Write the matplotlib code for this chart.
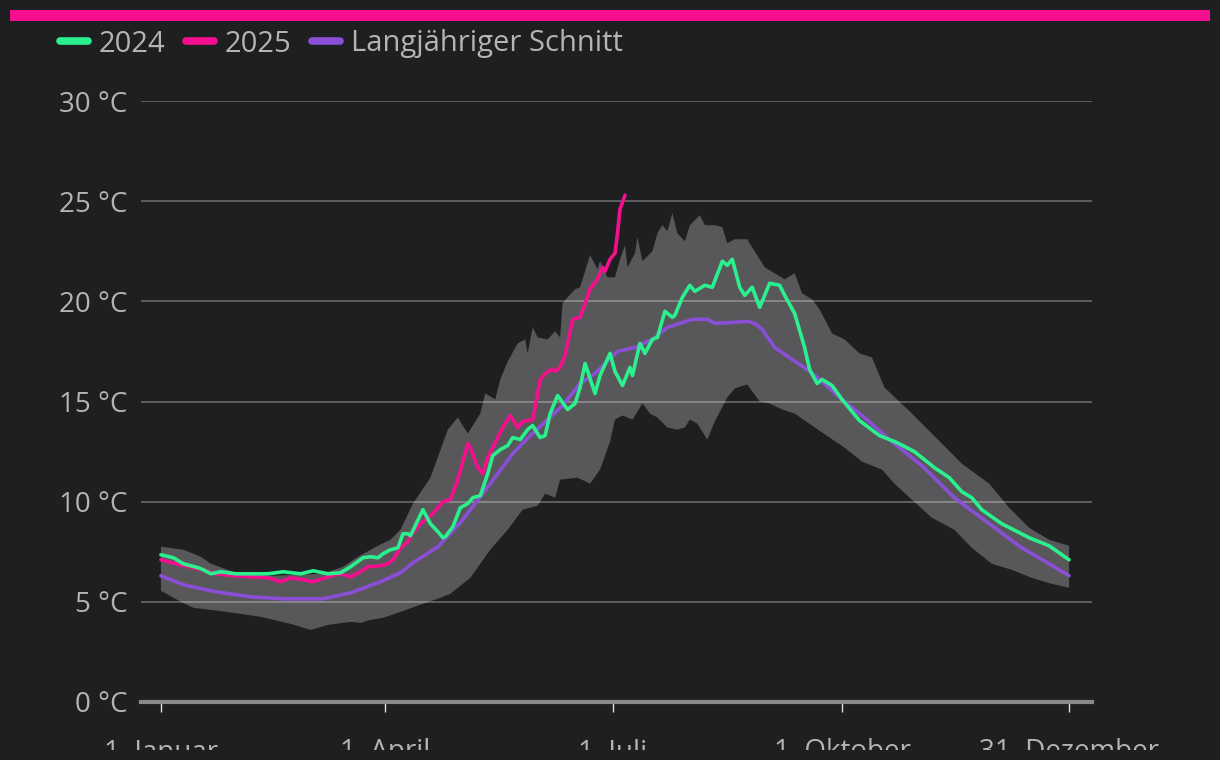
import numpy as np
import matplotlib
matplotlib.use("Agg")
import matplotlib.pyplot as plt
from matplotlib.patches import Rectangle

# ---------------- data ----------------
tick_days = [0, 90, 181, 273, 364]
tick_labels = ["1. Januar", "1. April", "1. Juli", "1. Oktober", "31. Dezember"]
y_ticks = [0, 5, 10, 15, 20, 25, 30]
y_labels = ["0 °C", "5 °C", "10 °C", "15 °C", "20 °C", "25 °C", "30 °C"]

avg_days = [0, 9, 22, 36, 49, 65, 76, 88, 96, 101, 111, 121, 132, 141, 148, 155, 161,
            168, 174, 183, 190, 197, 203, 213, 219, 222, 230, 235, 238, 241, 246, 253,
            259, 265, 273, 282, 292, 300, 305, 318, 332, 345, 356, 364]
avg_vals = [6.3, 5.85, 5.5, 5.25, 5.15, 5.15, 5.45, 6.0, 6.45, 6.95, 7.75, 9.1, 10.9, 12.4,
            13.3, 14.1, 14.8, 15.9, 16.4, 17.5, 17.7, 18.1, 18.7, 19.1, 19.1, 18.9, 18.95,
            19.0, 18.9, 18.6, 17.7, 17.1, 16.6, 16.0, 15.1, 14.2, 13.1, 12.3, 11.8, 10.2,
            8.9, 7.7, 6.9, 6.3]

upper_days = [0, 9, 16, 20, 29, 43, 56, 65, 73, 79, 87, 92, 96, 101, 108, 115, 119, 123,
              128, 130, 134, 136, 139, 143, 146, 147, 149, 151, 155, 158, 160, 161, 163,
              166, 168, 172, 175, 176, 179, 182, 184, 186, 187, 190, 191, 193, 197, 199,
              201, 203, 205, 207, 210, 212, 216, 218, 222, 225, 227, 230, 235, 238, 242,
              246, 250, 254, 257, 261, 264, 269, 274, 280, 285, 290, 301, 309, 321, 332,
              340, 348, 356, 364]
upper_vals = [7.75, 7.6, 7.25, 6.9, 6.5, 6.3, 6.35, 6.4, 6.75, 7.25, 7.8, 8.1, 8.6, 9.9,
              11.2, 13.6, 14.2, 13.4, 14.4, 15.4, 15.1, 16.1, 17.0, 17.9, 18.1, 17.4, 18.7,
              18.2, 18.1, 18.5, 18.2, 19.9, 20.2, 20.6, 20.7, 22.3, 21.6, 22.0, 21.2, 21.2,
              22.1, 22.8, 21.7, 22.4, 23.2, 22.0, 22.5, 23.4, 23.8, 23.5, 24.4, 23.4, 23.0,
              23.8, 24.3, 23.8, 23.8, 23.7, 22.9, 23.1, 23.1, 22.5, 21.7, 21.4, 21.1, 21.4,
              20.4, 20.1, 19.6, 18.4, 18.1, 17.4, 17.2, 15.7, 14.4, 13.4, 11.9, 10.9, 9.7,
              8.7, 8.1, 7.8]

lower_days = [0, 8, 13, 23, 32, 40, 52, 60, 67, 76, 80, 84, 89, 96, 105, 112, 116, 124,
              132, 139, 145, 151, 154, 158, 160, 167, 172, 176, 180, 182, 185, 189, 193,
              196, 199, 203, 207, 210, 212, 215, 219, 222, 227, 230, 235, 240, 244, 249,
              254, 261, 268, 274, 281, 289, 294, 301, 309, 318, 325, 333, 341, 349, 357, 364]
lower_vals = [5.55, 5.0, 4.7, 4.55, 4.4, 4.25, 3.9, 3.6, 3.85, 4.0, 3.95, 4.1, 4.2, 4.5,
              4.9, 5.2, 5.4, 6.2, 7.6, 8.6, 9.6, 9.8, 10.4, 10.2, 11.1, 11.2, 10.9, 11.6,
              13.0, 14.1, 14.3, 14.1, 14.9, 14.4, 14.2, 13.7, 13.6, 13.7, 14.1, 13.9, 13.1,
              14.0, 15.2, 15.65, 15.85, 15.0, 14.9, 14.6, 14.4, 13.8, 13.2, 12.7, 12.0, 11.6,
              10.9, 10.1, 9.2, 8.6, 7.7, 6.9, 6.6, 6.2, 5.9, 5.7]

y2024_days = [0, 5, 9, 15, 17, 20, 24, 30, 36, 43, 49, 56, 61, 67, 72, 76, 81, 84, 87, 89,
              92, 95, 97, 99, 100, 105, 108, 111, 113, 114, 117, 120, 123, 125, 128, 131,
              133, 136, 139, 141, 144, 147, 149, 152, 154, 156, 159, 163, 166, 168, 170,
              174, 176, 180, 182, 185, 188, 189, 192, 194, 197, 199, 202, 205, 206, 209,
              212, 214, 218, 221, 225, 227, 229, 232, 234, 237, 240, 244, 248, 250, 254,
              258, 260, 263, 265, 269, 273, 280, 288, 295, 302, 310, 316, 321, 325, 329,
              337, 348, 356, 364]
y2024_vals = [7.35, 7.2, 6.9, 6.7, 6.6, 6.4, 6.5, 6.4, 6.4, 6.4, 6.5, 6.4, 6.55, 6.4, 6.45,
              6.75, 7.2, 7.25, 7.2, 7.4, 7.6, 7.7, 8.4, 8.4, 8.3, 9.6, 8.9, 8.5, 8.2, 8.25,
              8.75, 9.7, 9.9, 10.2, 10.3, 11.4, 12.3, 12.6, 12.8, 13.2, 13.1, 13.6, 13.8,
              13.2, 13.3, 14.4, 15.3, 14.6, 14.9, 15.7, 16.9, 15.4, 16.3, 17.4, 16.5, 15.8,
              16.7, 16.3, 17.9, 17.4, 18.1, 18.2, 19.5, 19.2, 19.3, 20.2, 20.8, 20.5, 20.8,
              20.7, 22.0, 21.8, 22.1, 20.7, 20.3, 20.7, 19.7, 20.9, 20.8, 20.3, 19.4, 17.7,
              16.6, 15.9, 16.1, 15.8, 15.1, 14.05, 13.3, 12.95, 12.5, 11.7, 11.2, 10.5, 10.2,
              9.6, 8.9, 8.2, 7.8, 7.1]

y2025_days = [0, 6, 13, 17, 22, 29, 36, 43, 48, 52, 57, 61, 67, 72, 76, 80, 83, 88, 91,
              93, 96, 99, 100, 104, 109, 113, 116, 119, 123, 124, 127, 129, 131, 135, 137,
              140, 143, 145, 149, 150, 152, 155, 157, 158, 160, 162, 165, 168, 170, 172,
              175, 177, 178, 180, 182, 183, 184, 186]
y2025_vals = [7.1, 6.9, 6.7, 6.6, 6.4, 6.3, 6.25, 6.2, 6.0, 6.2, 6.1, 6.0, 6.25, 6.4, 6.25,
              6.5, 6.75, 6.8, 6.9, 7.1, 7.7, 8.0, 8.3, 8.9, 9.4, 10.0, 10.1, 11.1, 12.9, 12.7,
              11.7, 11.4, 12.2, 13.2, 13.7, 14.3, 13.7, 14.0, 14.1, 14.7, 16.1, 16.5, 16.6,
              16.5, 16.7, 17.3, 19.1, 19.2, 19.9, 20.6, 21.1, 21.7, 21.5, 22.1, 22.4, 23.4,
              24.6, 25.3]

series_names = ["2024", "2025", "Langjähriger Schnitt"]

# ---------------- style ----------------
BG = "#1e1f21"
PINK = "#f50f8f"
GREEN = "#2bf08e"
PURPLE = "#8a4fd6"
BAND = "#58585a"
TXT = "#b4b4b4"
FONT = ["Open Sans", "DejaVu Sans"]

plt.rcParams["font.family"] = FONT

W, H = 1220, 760
fig = plt.figure(figsize=(W / 100, H / 100), dpi=100, facecolor=BG)
ax = fig.add_axes([141 / W, 1 - 702 / H, (1092 - 141) / W, (702 - 101) / H])
ax.set_facecolor(BG)

# band
ax.fill(np.concatenate([upper_days, lower_days[::-1]]),
        np.concatenate([upper_vals, lower_vals[::-1]]),
        color=BAND, lw=0, zorder=1)

lw = 2.6
ax.plot(avg_days, avg_vals, color=PURPLE, lw=lw, zorder=3,
        solid_capstyle="round", solid_joinstyle="round", label=series_names[2])
ax.plot(y2025_days, y2025_vals, color=PINK, lw=lw, zorder=4,
        solid_capstyle="round", solid_joinstyle="round", label=series_names[1])
ax.plot(y2024_days, y2024_vals, color=GREEN, lw=lw, zorder=5,
        solid_capstyle="round", solid_joinstyle="round", label=series_names[0])

ax.set_xlim(-8, 373.2)
ax.set_ylim(0, 30)

for s in ["top", "right", "left"]:
    ax.spines[s].set_visible(False)
ax.spines["bottom"].set_color("#8a8a8a")
ax.spines["bottom"].set_linewidth(3)
ax.spines["bottom"].set_zorder(6)

ax.set_yticks(y_ticks)
ax.set_yticklabels(y_labels)
ax.set_xticks(tick_days)
ax.set_xticklabels(tick_labels)
ax.tick_params(axis="y", length=0, pad=10, labelsize=20, labelcolor=TXT)
ax.tick_params(axis="x", length=7, width=1, color="#e0e0e0", pad=19,
               labelsize=20, labelcolor=TXT)
ax.yaxis.grid(True, color="white", alpha=0.3, lw=1.3)
ax.xaxis.grid(False)

# legend
h, l = ax.get_legend_handles_labels()
order = [2, 1, 0]
leg = fig.legend([h[i] for i in order], [l[i] for i in order],
                 loc="center left", bbox_to_anchor=(60 / W, 1 - 44 / H),
                 ncol=3, frameon=False, fontsize=21, labelcolor=TXT,
                 handlelength=0.95, handletextpad=0.38, columnspacing=0.7,
                 borderaxespad=0, borderpad=0)
for lh in leg.legend_handles:
    lh.set_linewidth(5.5)
    lh.set_solid_capstyle("round")

# top pink bar
fig.add_artist(Rectangle((10 / W, 1 - 21 / H), 1200 / W, 11 / H,
                         transform=fig.transFigure, color=PINK, lw=0, zorder=10))
# bottom clip strip
fig.add_artist(Rectangle((0, 0), 1, 10 / H, transform=fig.transFigure,
                         color=BG, lw=0, zorder=10))

fig.savefig("out.png", dpi=100, facecolor=BG)
